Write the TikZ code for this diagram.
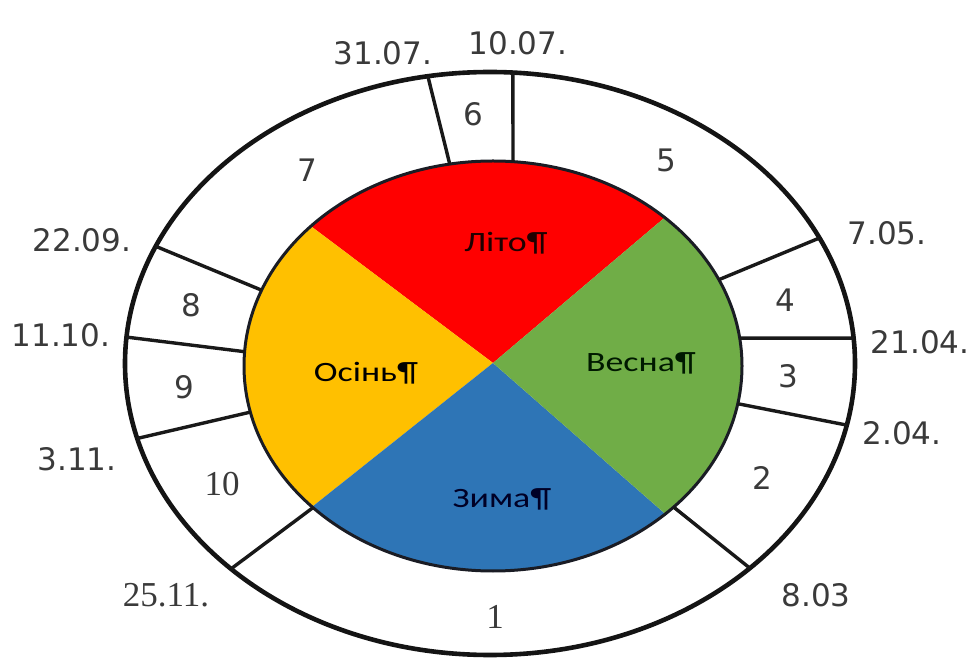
\documentclass[tikz,border=0pt]{standalone}
\usepackage{fontspec}
\usepackage{graphicx}
\usetikzlibrary{calc}
\newfontfamily\datefont{DejaVu Sans}
\newfontfamily\serfont{Liberation Serif}
\newfontfamily\seasonfont{Carlito}
\definecolor{summer}{HTML}{FF0000}
\definecolor{autumn}{HTML}{FFC000}
\definecolor{winter}{HTML}{2E75B6}
\definecolor{spring}{HTML}{70AD47}
\definecolor{labelgray}{HTML}{3A3A3A}
\definecolor{innerline}{HTML}{1A1C24}
\begin{document}
\begin{tikzpicture}[x=1pt,y=1pt,
  lbl/.style={font=\datefont\fontsize{31}{33}\selectfont, text=labelgray, inner sep=0pt},
  slbl/.style={font=\serfont\fontsize{35}{37}\selectfont, text=labelgray, inner sep=0pt},
  season/.style={font=\seasonfont\fontsize{28}{30}\selectfont, inner sep=0pt, anchor=base},
  divider/.style={line width=3.4pt, draw=black!90}]
\useasboundingbox (0,0) rectangle (977,659);
\coordinate (ic) at (493,293);
\coordinate (oc) at (490,295.5);
\coordinate (apex) at (493,296);
% season sectors
\fill[summer] (apex) -- ($(ic)+(46.4:249pt and 205pt)$) arc[start angle=46.4,end angle=137,x radius=249pt,y radius=205pt] -- cycle;
\fill[autumn] (apex) -- ($(ic)+(137:249pt and 205pt)$) arc[start angle=137,end angle=223.4,x radius=249pt,y radius=205pt] -- cycle;
\fill[winter] (apex) -- ($(ic)+(223.4:249pt and 205pt)$) arc[start angle=223.4,end angle=313.8,x radius=249pt,y radius=205pt] -- cycle;
\fill[spring] (apex) -- ($(ic)+(313.8:249pt and 205pt)$) arc[start angle=313.8,end angle=406.4,x radius=249pt,y radius=205pt] -- cycle;
\draw[line width=3pt, draw=innerline] (ic) ellipse[x radius=249pt, y radius=205pt];
\draw[line width=4.6pt, draw=black!92] (oc) ellipse[x radius=365pt, y radius=291.5pt];
% divider end points
\foreach \n/\a/\b in {1/85.4/86.4, 2/100/99.8, 3/158.3/156.3, 4/176/174.8, 5/193/194.9,
                      6/223.7/224.8, 7/316.5/315.4, 8/349.4/347.8, 9/7.8/5, 10/24.9/25.5} {
  \coordinate (i\n) at ($(ic)+(\a:249pt and 205pt)$);
  \coordinate (o\n) at ($(oc)+(\b:365pt and 291.5pt)$);
}
\foreach \n in {1,...,10} { \draw[divider] (i\n) -- (o\n); }
% dates
\node[lbl] (d1007) at (518,616) {10.07.};
\node[lbl] (d3107) at (383,606) {31.07.};
\node[lbl] (d2209) at (82,419) {22.09.};
\node[lbl] (d1110) at (61,324) {11.10.};
\node[lbl] (d0311) at (77,200) {3.11.};
\node[slbl] (d2511) at (166,64) {25.11.};
\node[lbl] (d0803) at (816,64) {8.03};
\node[lbl] (d0204) at (902,226) {2.04.};
\node[lbl] (d2104) at (920,317) {21.04.};
\node[lbl] (d0705) at (887,426) {7.05.};
% period numbers
\node[slbl] (n1) at (495,42) {1};
\node[lbl] (n2) at (762,181) {2};
\node[lbl] (n3) at (788,283) {3};
\node[lbl] (n4) at (785,359) {4};
\node[lbl] (n5) at (666,499) {5};
\node[lbl] (n6) at (473,545) {6};
\node[lbl] (n7) at (307,489) {7};
\node[lbl] (n8) at (191,354) {8};
\node[lbl] (n9) at (184,272) {9};
\node[slbl] (n10) at (222,175) {10};
% seasons
\node[season, text=black!88!red] (summerlbl) at (506,407) {\scalebox{1.28}[1]{Літо¶}};
\node[season, text=black] (autumnlbl) at (366,277) {\scalebox{1.28}[1]{Осінь¶}};
\node[season, text=black!90!green] (springlbl) at (641,287) {\scalebox{1.28}[1]{Весна¶}};
\node[season, text=black!85!blue] (winterlbl) at (502,151) {\scalebox{1.28}[1]{Зима¶}};
\end{tikzpicture}
\end{document}
